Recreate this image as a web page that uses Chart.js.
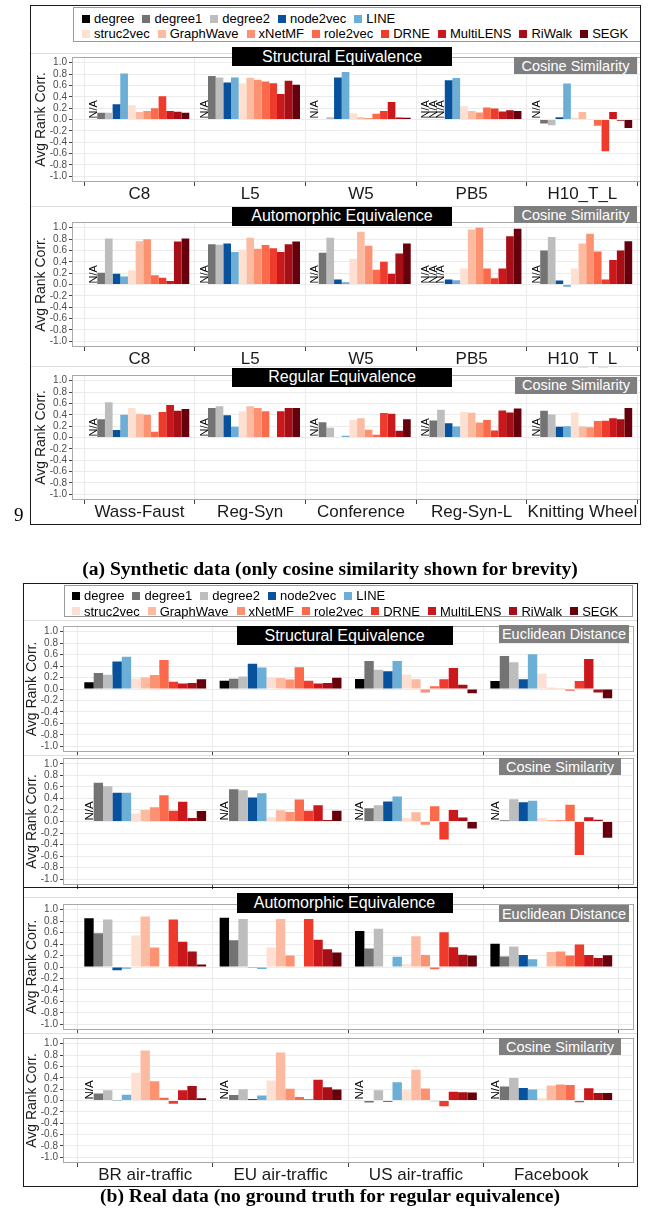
<!DOCTYPE html>
<html><head><meta charset="utf-8">
<script src="https://cdn.jsdelivr.net/npm/chart.js@4.4.0/dist/chart.umd.min.js"></script>
<style>
html,body{margin:0;padding:0;background:#fff;}
body{width:654px;height:1212px;position:relative;overflow:hidden;font-family:"Liberation Sans",Arial,sans-serif;}
canvas{position:absolute;}
.strip{position:absolute;background:#000;color:#fff;font-size:16px;display:flex;align-items:center;justify-content:center;white-space:nowrap;}
.tag{position:absolute;background:#7f7f7f;color:#fff;font-size:14.5px;display:flex;align-items:center;justify-content:center;white-space:nowrap;}
.legend{position:absolute;border:1px solid #9a9a9a;background:#fff;box-sizing:border-box;}
.lrow{position:absolute;display:flex;align-items:center;height:16px;font-size:13px;white-space:nowrap;color:#000;}
.item{display:flex;align-items:center;margin-right:8px;}
.sw{width:8px;height:8px;margin-right:4px;}
.hline{position:absolute;height:0;border-top:1px solid #dedede;}
.frame{position:absolute;border:1.4px solid #1a1a1a;box-sizing:border-box;}
.cap{position:absolute;font-family:"Liberation Serif","Times New Roman",serif;font-weight:bold;font-size:19.6px;white-space:nowrap;transform:translate(-50%,-50%);color:#000;}
</style></head><body>
<div id="charts"></div>
<div id="overlay"></div>
<script>
// ---------- data ----------
const methods = ['degree','degree1','degree2','node2vec','LINE','struc2vec','GraphWave','xNetMF','role2vec','DRNE','MultiLENS','RiWalk','SEGK'];
const methodColors = ['#000000','#737373','#bdbdbd','#08519c','#6baed6','#fee0d2','#fcbba1','#fc9272','#fb6a4a','#ef3b2c','#cb181d','#a50f15','#67000d'];
const synthCats = ['C8','L5','W5','PB5','H10_T_L'];
const synthRegCats = ['Wass-Faust','Reg-Syn','Conference','Reg-Syn-L','Knitting Wheel'];
const realCats = ['BR air-traffic','EU air-traffic','US air-traffic','Facebook'];
const yTickValues = [-1.0,-0.8,-0.6,-0.4,-0.2,0.0,0.2,0.4,0.6,0.8,1.0];

// (a) Structural equivalence, cosine similarity (values in method order, null = N/A)
const aSE_C8  = [null, 0.12, 0.12, 0.27, 0.81, 0.25, 0.13, 0.15, 0.20, 0.41, 0.15, 0.135, 0.12];
const aSE_L5  = [null, 0.765, 0.74, 0.65, 0.74, 0.64, 0.735, 0.70, 0.67, 0.64, 0.45, 0.68, 0.61];
const aSE_W5  = [null, 0.01, 0.04, 0.74, 0.835, 0.11, 0.04, 0.025, 0.10, 0.15, 0.31, 0.035, 0.03];
const aSE_PB5 = [null, null, null, 0.69, 0.73, 0.235, 0.15, 0.125, 0.21, 0.195, 0.14, 0.165, 0.15];
const aSE_H10 = [null, -0.07, -0.10, 0.04, 0.635, 0.035, 0.13, -0.01, -0.11, -0.56, 0.13, -0.02, -0.15];
// (a) Automorphic equivalence, cosine similarity
const aAE_C8  = [null, 0.205, 0.81, 0.19, 0.14, 0.25, 0.76, 0.795, 0.165, 0.12, 0.06, 0.755, 0.81];
const aAE_L5  = [null, 0.71, 0.70, 0.72, 0.57, 0.61, 0.825, 0.63, 0.695, 0.64, 0.57, 0.71, 0.755];
const aAE_W5  = [null, 0.56, 0.825, 0.09, 0.04, 0.455, 0.93, 0.68, 0.26, 0.40, 0.19, 0.545, 0.72];
const aAE_PB5 = [null, null, null, 0.09, 0.075, 0.28, 0.97, 1.0, 0.28, 0.11, 0.28, 0.85, 0.98];
const aAE_H10 = [null, 0.60, 0.835, 0.07, -0.04, 0.28, 0.72, 0.895, 0.58, 0.09, 0.43, 0.60, 0.76];
// (a) Regular equivalence, cosine similarity
const aRE_WF   = [null, 0.32, 0.62, 0.13, 0.40, 0.52, 0.42, 0.40, 0.10, 0.45, 0.57, 0.47, 0.50];
const aRE_RS   = [null, 0.52, 0.55, 0.39, 0.19, 0.46, 0.55, 0.52, 0.46, 0.01, 0.46, 0.52, 0.52];
const aRE_Conf = [null, 0.27, 0.17, 0.01, 0.03, 0.31, 0.34, 0.135, 0.05, 0.43, 0.42, 0.12, 0.32];
const aRE_RSL  = [null, 0.30, 0.49, 0.25, 0.195, 0.45, 0.435, 0.265, 0.31, 0.125, 0.475, 0.44, 0.51];
const aRE_KW   = [null, 0.47, 0.405, 0.19, 0.20, 0.44, 0.195, 0.18, 0.29, 0.295, 0.34, 0.32, 0.52];
// (b) Structural equivalence, Euclidean distance
const bSEe_BR = [0.12, 0.28, 0.25, 0.48, 0.565, 0.18, 0.20, 0.245, 0.505, 0.125, 0.095, 0.105, 0.17];
const bSEe_EU = [0.145, 0.18, 0.22, 0.44, 0.375, 0.195, 0.19, 0.165, 0.38, 0.145, 0.095, 0.105, 0.195];
const bSEe_US = [0.175, 0.49, 0.335, 0.31, 0.49, 0.25, 0.17, -0.06, 0.05, 0.17, 0.365, 0.075, -0.075];
const bSEe_FB = [0.14, 0.575, 0.465, 0.17, 0.605, 0.265, 0.02, 0.015, -0.03, 0.14, 0.525, -0.06, -0.16];
// (b) Structural equivalence, cosine similarity
const bSEc_BR = [null, 0.67, 0.61, 0.50, 0.50, 0.14, 0.20, 0.245, 0.455, 0.185, 0.34, 0.06, 0.18];
const bSEc_EU = [null, 0.56, 0.54, 0.415, 0.49, 0.075, 0.195, 0.165, 0.38, 0.185, 0.28, 0.025, 0.185];
const bSEc_US = [null, 0.23, 0.28, 0.345, 0.435, 0.065, 0.16, -0.055, 0.265, -0.31, 0.20, 0.07, -0.12];
const bSEc_FB = [null, 0.02, 0.385, 0.335, 0.36, 0.06, 0.025, 0.025, 0.29, -0.58, 0.075, 0.03, -0.28];
// (b) Automorphic equivalence, Euclidean distance
const bAEe_BR = [0.85, 0.59, 0.83, -0.055, -0.03, 0.55, 0.88, 0.34, -0.01, 0.83, 0.44, 0.27, 0.045];
const bAEe_EU = [0.86, 0.465, 0.84, -0.015, -0.035, 0.34, 0.84, 0.20, -0.01, 0.84, 0.475, 0.31, 0.255];
const bAEe_US = [0.63, 0.325, 0.67, -0.01, 0.18, 0.05, 0.535, 0.21, -0.04, 0.605, 0.345, 0.215, 0.20];
const bAEe_FB = [0.405, 0.185, 0.36, 0.21, 0.135, 0.005, 0.26, 0.27, 0.20, 0.395, 0.21, 0.155, 0.205];
// (b) Automorphic equivalence, cosine similarity
const bAEc_BR = [null, 0.125, 0.18, -0.005, 0.10, 0.49, 0.88, 0.34, 0.05, -0.055, 0.18, 0.255, 0.04];
const bAEc_EU = [null, 0.095, 0.20, 0.025, 0.09, 0.35, 0.845, 0.205, 0.06, 0.02, 0.365, 0.235, 0.195];
const bAEc_US = [null, -0.035, 0.18, -0.02, 0.32, 0.18, 0.54, 0.21, -0.015, -0.10, 0.155, 0.145, 0.14];
const bAEc_FB = [null, 0.245, 0.395, 0.22, 0.195, 0.045, 0.265, 0.28, 0.275, -0.03, 0.215, 0.13, 0.13];

// ---------- layout ----------
const FONT = '"Liberation Sans", Arial, sans-serif';
const panels = [
  {rows:[aSE_C8,aSE_L5,aSE_W5,aSE_PB5,aSE_H10], cats:synthCats, left:30, top:50, width:624, plotRight:648.8, plotTop:57, plotBottom:182, xH:25, labels:true, na:11},
  {rows:[aAE_C8,aAE_L5,aAE_W5,aAE_PB5,aAE_H10], cats:synthCats, left:30, top:215, width:624, plotRight:648.8, plotTop:222, plotBottom:347, xH:22, labels:true, na:11},
  {rows:[aRE_WF,aRE_RS,aRE_Conf,aRE_RSL,aRE_KW], cats:synthRegCats, left:30, top:368, width:624, plotRight:648.8, plotTop:375, plotBottom:500, xH:22, labels:true, na:11},
  {rows:[bSEe_BR,bSEe_EU,bSEe_US,bSEe_FB], cats:realCats, left:21, top:619, width:633, plotRight:632.5, plotTop:626, plotBottom:752, xH:8, labels:false, na:11.5},
  {rows:[bSEc_BR,bSEc_EU,bSEc_US,bSEc_FB], cats:realCats, left:21, top:751, width:633, plotRight:632.5, plotTop:758, plotBottom:885, xH:8, labels:false, na:11.5},
  {rows:[bAEe_BR,bAEe_EU,bAEe_US,bAEe_FB], cats:realCats, left:21, top:897, width:633, plotRight:632.5, plotTop:904, plotBottom:1030, xH:8, labels:false, na:11.5},
  {rows:[bAEc_BR,bAEc_EU,bAEc_US,bAEc_FB], cats:realCats, left:21, top:1031, width:633, plotRight:632.5, plotTop:1038, plotBottom:1163, xH:22, labels:true, na:11.5}
];

function buildPanel(p) {
  const cv = document.createElement('canvas');
  const height = p.plotBottom + p.xH - p.top;
  cv.width = p.width; cv.height = height;
  cv.style.left = p.left + 'px'; cv.style.top = p.top + 'px';
  cv.style.width = p.width + 'px'; cv.style.height = height + 'px';
  document.getElementById('charts').appendChild(cv);
  const n = p.cats.length;
  const datasets = methods.map((m, k) => ({
    label: m,
    data: p.rows.map((row, i) => ({x: i + 1, y: row[k]})),
    backgroundColor: methodColors[k],
    borderWidth: 0,
    categoryPercentage: 0.9,
    barPercentage: 1.0
  }));
  const decor = {
    id: 'decor' ,
    afterDatasetsDraw(chart) {
      const {ctx, scales: {y}} = chart;
      const y0 = y.getPixelForValue(0);
      ctx.save();
      ctx.fillStyle = '#000';
      ctx.font = p.na + 'px ' + FONT;
      ctx.textAlign = 'left';
      ctx.textBaseline = 'middle';
      chart.data.datasets.forEach((ds, d) => {
        const meta = chart.getDatasetMeta(d);
        ds.data.forEach((pt, i) => {
          if (pt.y === null) {
            const el = meta.data[i];
            ctx.save();
            ctx.translate(el.x, y0 - 1);
            ctx.rotate(-Math.PI / 2);
            ctx.fillText('N/A', 0, 0.5);
            ctx.restore();
          }
        });
      });
      ctx.restore();
    },
    afterDraw(chart) {
      const {ctx, chartArea: a} = chart;
      ctx.save();
      ctx.strokeStyle = '#a8a8a8';
      ctx.lineWidth = 1;
      ctx.strokeRect(Math.round(a.left) - 0.5, Math.round(a.top) + 0.5, Math.round(a.right - a.left) + 1, Math.round(a.bottom - a.top) - 1);
      ctx.restore();
    }
  };
  new Chart(cv, {
    type: 'bar',
    data: {datasets},
    options: {
      responsive: false, animation: false, devicePixelRatio: 1,
      layout: {padding: {left: 0, top: p.plotTop - p.top, right: p.left + p.width - p.plotRight, bottom: 0}},
      plugins: {legend: {display: false}, tooltip: {enabled: false}},
      scales: {
        x: {
          type: 'linear', min: 0.4, max: n + 0.6, offset: false,
          afterBuildTicks: s => { s.ticks = p.cats.map((c, i) => ({value: i + 1})); },
          afterFit: s => { s.height = p.xH; s.paddingLeft = 0; s.paddingRight = 0; },
          grid: {color: '#ebebeb', lineWidth: 1, tickLength: 4, tickColor: '#444', drawTicks: true},
          border: {display: false},
          ticks: {display: p.labels, autoSkip: false, minRotation: 0, maxRotation: 0, padding: 0,
                  color: '#1a1a1a', font: {family: FONT, size: 17, lineHeight: 1},
                  callback: v => p.cats[Math.round(v) - 1] || ''}
        },
        y: {
          type: 'linear', min: -1.1, max: 1.1,
          afterBuildTicks: s => { s.ticks = yTickValues.map(v => ({value: v})); },
          afterFit: s => { s.width = 43; s.paddingTop = 0; s.paddingBottom = 0; },
          grid: {color: '#ebebeb', lineWidth: 1, tickLength: 4, tickColor: '#444'},
          border: {display: false},
          ticks: {autoSkip: false, color: '#4d4d4d', padding: 2, font: {family: FONT, size: 10, lineHeight: 1},
                  callback: v => Number(v).toFixed(1)},
          title: {display: true, text: 'Avg Rank Corr.', color: '#1a1a1a',
                  font: {family: FONT, size: 14}, padding: {top: 3, bottom: 0}}
        }
      }
    },
    plugins: [decor]
  });
}
panels.forEach(buildPanel);

// ---------- overlay (legend, strips, frames, captions) ----------
const ov = document.getElementById('overlay');
function add(cls, style, text) {
  const d = document.createElement('div');
  d.className = cls;
  Object.assign(d.style, style);
  if (text !== undefined) d.textContent = text;
  ov.appendChild(d);
  return d;
}
// cover plot overflow on the right of (a)
add('', {position: 'absolute', left: '641px', top: '0px', width: '13px', height: '530px', background: '#fff'});

function legend(boxL, boxT, boxW, boxH, x0, r1, r2) {
  add('legend', {left: boxL + 'px', top: boxT + 'px', width: boxW + 'px', height: boxH + 'px'});
  [[0, 5, r1], [5, 13, r2]].forEach(([s, e, cy]) => {
    const row = add('lrow', {left: x0 + 'px', top: (cy - 8) + 'px'});
    for (let k = s; k < e; k++) {
      const it = document.createElement('div'); it.className = 'item';
      const sw = document.createElement('div'); sw.className = 'sw'; sw.style.background = methodColors[k];
      const tx = document.createElement('span'); tx.textContent = methods[k];
      it.appendChild(sw); it.appendChild(tx); row.appendChild(it);
    }
  });
}
// light separators
[[30, 610, 52.5], [30, 610, 205.5], [30, 610, 365.5], [23, 614, 620], [23, 614, 755], [23, 614, 896.5], [23, 614, 1033]].forEach(([l, w, t]) =>
  add('hline', {left: l + 'px', width: w + 'px', top: t + 'px'}));

legend(73, 7, 568, 35, 82, 18.5, 33.5);
legend(63.5, 585, 569, 32, 72, 595.5, 611);

// strips (a)
add('strip', {left: '232px', top: '47px', width: '220px', height: '19px'}, 'Structural Equivalence');
add('tag', {left: '514px', top: '57px', width: '123px', height: '17px'}, 'Cosine Similarity');
add('strip', {left: '232px', top: '206.5px', width: '220px', height: '19px'}, 'Automorphic Equivalence');
add('tag', {left: '514px', top: '206px', width: '123px', height: '17px'}, 'Cosine Similarity');
add('strip', {left: '232px', top: '367.5px', width: '220px', height: '19px'}, 'Regular Equivalence');
add('tag', {left: '515px', top: '376.5px', width: '122px', height: '17px'}, 'Cosine Similarity');
// strips (b)
add('strip', {left: '236.5px', top: '626px', width: '216px', height: '19px'}, 'Structural Equivalence');
add('tag', {left: '499px', top: '625px', width: '130px', height: '18px'}, 'Euclidean Distance');
add('tag', {left: '499px', top: '758px', width: '122px', height: '17px'}, 'Cosine Similarity');
add('strip', {left: '236.5px', top: '893px', width: '216px', height: '20px'}, 'Automorphic Equivalence');
add('tag', {left: '499px', top: '905px', width: '130px', height: '17px'}, 'Euclidean Distance');
add('tag', {left: '499px', top: '1038px', width: '122px', height: '17px'}, 'Cosine Similarity');

// frames
add('frame', {left: '30px', top: '5px', width: '611px', height: '520px'});
add('frame', {left: '23px', top: '582.5px', width: '615px', height: '604px'});
add('', {position: 'absolute', left: '23px', top: '886.5px', width: '615px', height: '0', borderTop: '1.4px solid #1a1a1a'});

// captions
add('cap', {left: '330px', top: '568.5px'}, '(a) Synthetic data (only cosine similarity shown for brevity)');
add('cap', {left: '330px', top: '1196px'}, '(b) Real data (no ground truth for regular equivalence)');
add('cap', {left: '18.8px', top: '514.5px', fontWeight: 'normal', fontSize: '19px'}, '9');
</script>
</body></html>
